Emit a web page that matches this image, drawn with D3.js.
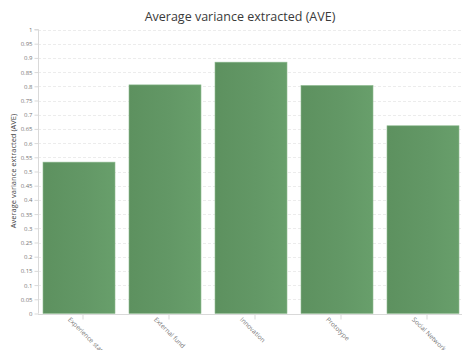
<!DOCTYPE html>
<html><head><meta charset="utf-8">
<script src="https://cdn.jsdelivr.net/npm/d3@7"></script>
<style>body{margin:0;background:#fff;overflow:hidden}svg{display:block}</style>
</head><body>
<script>
const categories = ["Experience stage", "External fund", "Innovation", "Prototype", "Social Network"];
const values = [0.533, 0.805, 0.885, 0.803, 0.661];
const yTicks = [0,0.05,0.1,0.15,0.2,0.25,0.3,0.35,0.4,0.45,0.5,0.55,0.6,0.65,0.7,0.75,0.8,0.85,0.9,0.95,1];
const title = "Average variance extracted (AVE)";
const yTitle = "Average variance extracted (AVE)";

const W = 464, H = 350;
const svg = d3.select("body").append("svg").attr("width", W).attr("height", H)
  .style("font-family", "'Open Sans', sans-serif");

const x = d3.scaleBand().domain(categories).range([40, 470]).padding(0);
const y = d3.scaleLinear().domain([0, 1]).range([313.5, 29.5]);
const left = 38, right = 462;

const defs = svg.append("defs");
const g = defs.append("linearGradient").attr("id", "barg").attr("x1", 0).attr("x2", 1).attr("y1", 0).attr("y2", 0);
g.append("stop").attr("offset", "0%").attr("stop-color", "#5d915f");
g.append("stop").attr("offset", "60%").attr("stop-color", "#639866");
g.append("stop").attr("offset", "100%").attr("stop-color", "#689f6b");

// title
svg.append("text").attr("x", 240).attr("y", 21).attr("text-anchor", "middle")
  .attr("font-size", 12.5).attr("fill", "#3a3a3a").text(title);

// gridlines
svg.append("g").selectAll("line").data(yTicks.filter(d => d > 0)).join("line")
  .attr("x1", left).attr("x2", right)
  .attr("y1", d => Math.round(y(d)) + 0.5).attr("y2", d => Math.round(y(d)) + 0.5)
  .attr("stroke", "#ececec").attr("stroke-dasharray", "3,2").attr("stroke-width", 1);

// y axis
const yAxis = d3.axisLeft(y).tickValues(yTicks).tickFormat(d => String(+d.toFixed(2))).tickSize(4).tickPadding(2);
const ya = svg.append("g").attr("transform", `translate(${left + 0.5},0)`).call(yAxis);
ya.select(".domain").attr("stroke", "#d9d9d9").attr("d", `M-4,${y(1)}H0V${y(0)}`);
ya.selectAll(".tick line").attr("stroke", "#d9d9d9");
ya.selectAll(".tick text").attr("font-size", 6).attr("fill", "#777").attr("font-family", "'Open Sans', sans-serif");

// bars
svg.append("g").selectAll("rect").data(values).join("rect")
  .attr("x", (d, i) => x(categories[i]) + 3)
  .attr("width", x.bandwidth() - 14)
  .attr("y", d => y(d))
  .attr("height", d => y(0) - y(d))
  .attr("fill", "url(#barg)")
  .attr("stroke", "#8fbc92").attr("stroke-width", 0.6);

// x axis
const xAxis = d3.axisBottom(x).tickSize(5).tickPadding(4);
const xa = svg.append("g").attr("transform", `translate(0,${Math.round(y(0)) + 0.5})`).call(xAxis);
xa.select(".domain").attr("stroke", "#d9d9d9").attr("d", `M${left},0H${right}`);
xa.selectAll(".tick line").attr("stroke", "#d9d9d9");
xa.selectAll(".tick text")
  .attr("text-anchor", "start")
  .attr("font-size", 6.5).attr("fill", "#777").attr("font-family", "'Open Sans', sans-serif")
  .attr("transform", "translate(-14,4) rotate(45)")
  .attr("dy", "0.3em").attr("y", 0).attr("x", 0);

// y title
svg.append("text").attr("transform", `translate(16,171) rotate(-90)`)
  .attr("text-anchor", "middle").attr("font-size", 7.5).attr("fill", "#444").text(yTitle);
</script>
</body></html>
